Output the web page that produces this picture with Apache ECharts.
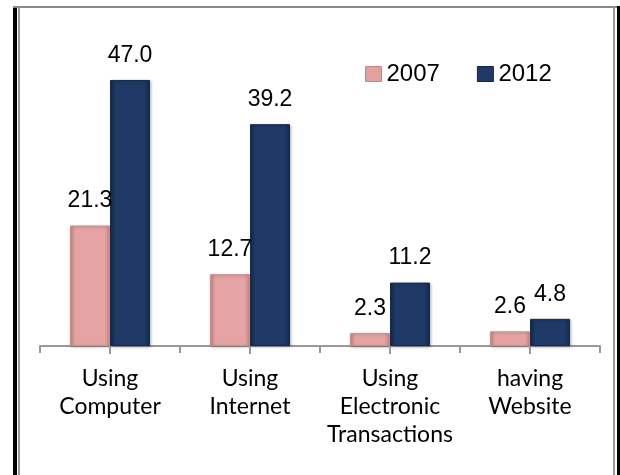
<!DOCTYPE html>
<html>
<head>
<meta charset="utf-8">
<script src="https://cdn.jsdelivr.net/npm/echarts@6/dist/echarts.min.js"></script>
<style>
  html, body { margin: 0; padding: 0; background: #fff; }
  #show_picture { width: 620px; height: 475px; }
</style>
</head>
<body>
<div id="show_picture"></div>
<script>
const categories = ['Using\nComputer', 'Using\nInternet', 'Using\nElectronic\nTransactions', 'having\nWebsite'];
const years = ['2007', '2012'];
const values2007 = [21.3, 12.7, 2.3, 2.6];
const values2012 = [47.0, 39.2, 11.2, 4.8];

let myChart = echarts.init(document.getElementById('show_picture'));

// bevel-ish look: darker edges, lighter face
function bevel(edge, face) {
    return new echarts.graphic.LinearGradient(0, 0, 1, 0, [
        { offset: 0, color: edge },
        { offset: 0.14, color: face },
        { offset: 0.86, color: face },
        { offset: 1, color: edge }
    ]);
}

const labelStyle = {
    show: true,
    position: 'top',
    distance: 13,
    fontFamily: 'Liberation Sans',
    fontSize: 23,
    color: '#000',
    formatter: p => p.value.toFixed(1)
};

let option = {
    animation: false,
    grid: { left: 40, right: 20, top: 63, bottom: 129 },
    legend: {
        left: 360,
        top: 57,
        icon: 'rect',
        itemWidth: 16,
        itemHeight: 15,
        itemGap: 37,
        textStyle: { fontFamily: 'Liberation Sans', fontSize: 24, color: '#000' },
        data: [
            { name: '2007', itemStyle: { color: '#e3a0a0', borderColor: '#c98282', borderWidth: 1 } },
            { name: '2012', itemStyle: { color: '#1f3a66', borderColor: '#132744', borderWidth: 1 } }
        ]
    },
    xAxis: {
        type: 'category',
        data: categories,
        axisLine: { show: true, lineStyle: { color: '#999', width: 2 } },
        axisTick: { show: true, interval: 0, length: 7, lineStyle: { color: '#999', width: 2 } },
        axisLabel: {
            fontFamily: 'Lato',
            fontSize: 23,
            lineHeight: 28,
            color: '#000',
            margin: 19,
            interval: 0
        }
    },
    yAxis: {
        type: 'value',
        min: 0,
        max: 50,
        show: false,
        splitLine: { show: false }
    },
    series: [
        {
            name: years[0],
            type: 'bar',
            data: values2007,
            barGap: '0%',
            barCategoryGap: '42.8%',
            itemStyle: {
                color: bevel('#c98585', '#e6a3a3'),
                borderColor: '#d09090',
                borderWidth: 1,
                shadowColor: 'rgba(0,0,0,0.25)',
                shadowBlur: 3,
                shadowOffsetX: 1,
                shadowOffsetY: 1
            },
            label: labelStyle
        },
        {
            name: years[1],
            type: 'bar',
            data: values2012,
            itemStyle: {
                color: bevel('#132a4c', '#1f3a66'),
                borderColor: '#152c50',
                borderWidth: 1,
                shadowColor: 'rgba(0,0,0,0.25)',
                shadowBlur: 3,
                shadowOffsetX: 1,
                shadowOffsetY: 1
            },
            label: labelStyle
        },
        {
            // short ticks under the middle of each category
            name: 'midTick',
            type: 'scatter',
            silent: true,
            clip: false,
            z: 5,
            symbol: 'rect',
            symbolSize: [2, 8],
            symbolOffset: [0, 4],
            itemStyle: { color: '#999', opacity: 1 },
            data: categories.map((c, i) => [i, 0])
        }
    ],
    graphic: [
        { type: 'rect', shape: { x: 13, y: 6, width: 4, height: 470 }, style: { fill: '#000' } },
        { type: 'rect', shape: { x: 617, y: 6, width: 3, height: 470 }, style: { fill: '#000' } },
        { type: 'rect', shape: { x: 13, y: 6, width: 604, height: 2 }, style: { fill: '#888' } },
        { type: 'rect', shape: { x: 18, y: 7, width: 2, height: 470 }, style: { fill: '#999' } },
        { type: 'rect', shape: { x: 613, y: 7, width: 2, height: 470 }, style: { fill: '#999' } }
    ]
};

option && myChart.setOption(option);
</script>
</body>
</html>
